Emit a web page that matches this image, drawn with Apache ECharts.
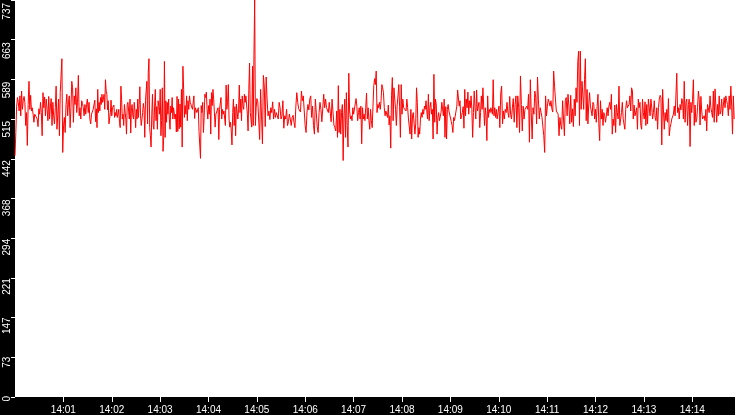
<!DOCTYPE html>
<html>
<head>
<meta charset="utf-8">
<script src="https://cdn.jsdelivr.net/npm/echarts@6/dist/echarts.min.js"></script>
<style>
html,body{margin:0;padding:0;background:#000;}
#c{width:735px;height:415px;}
</style>
</head>
<body>
<div id="c"></div>
<script>
// Values, in nine consecutive time segments
var segA = [448,491,540,556,547,531,559,522,568,534,550,558,547,504,528,467,543,586,534,560,531,537,525,510,525,522,528,516,502,535,525,547,528,485,565,537,557,522,553,534,513,558,516,540,554,504,547,522,507,537,577,497,525,553,485,565,568,628,454,504,519,491,543,562,522,547,559,500,537,586,574,510,559,543,574,528,547,597,522,537,516,550,545,537,522,543,525,543,553,528,547,516,507,525,522,534,537,551];
var segB = [511,535,500,571,528,547,531,556,543,562,547,553,562,534,589,568,562,533,550,507,504,528,551,522,537,534,542,519,528,522,534,519,525,534,510,500,577,553,516,525,504,543,542,516,488,543,547,548,516,553,490,537,543,522,516,547,531,500,534,516,553,519,543,576,522,504,516,528,545,534,482,550,547,586,507,602,628,500,485,464,525,562,504,497,540,571,513,539,497,550,540,525,571,485,513,574,456,482,623,482,550,510,547,525,553,516,497,540,528,556,516,537,540,516,525,492];
var segC = [558,493,553,498,544,501,571,464,614,571,519,541,525,559,513,550,534,559,547,544,550,534,534,559,517,537,534,528,525,537,493,491,443,541,528,547,491,519,562,556,566,534,516,541,525,553,488,565,541,571,553,553,501,525,522,525,537,478,534,537,556,516,534,525,531,534,504,579,534,547,580,516,501,510,494,468,528,553,504,539,485,544,541,516,534,579,528,553,513,559,541,534,562,547,559,559,525,494,571,620,528,525,501,614,504,636,737,504,537];
var segD = [554,548,547,478,571,522,470,597,577,502,594,553,522,531,515,537,528,548,516,534,519,528,525,516,547,537,516,522,550,499,522,516,534,504,511,525,516,504,519,523,510,500,540,565,547,535,533,529,568,550,559,558,504,491,529,543,533,553,559,519,540,504,488,553,554,502,491,528,547,534,511,510,562,537,553,537,534,528,547,550,511,553,553,505,500,494];
var segE = [531,482,578,491,534,488,528,543,439,522,553,482,565,504,464,601,531,516,522,513,537,525,528,522,554,540,513,528,537,516,540,470,537,516,525,513,537,564,516,537,513,497,534,513,500,540,578,591,580,605,528,543,537,547,534,550,580,574,565,537,522,531,525,519,542,505,522,462,559,593,513,574,553,534,504,542,559,580,540,482,580,525,553,537,539,534,531,553,537,516,513,488,534,479,522,528,528,488,507];
var segF = [574,547,482,500,488,516,528,519,534,525,540,534,550,531,516,562,513,537,547,525,534,479,599,510,553,542,488,519,528,513,516,528,547,548,522,553,482,539,479,534,543,531,534,528,511,504,491,519,513,516,510,540,570,571,540,550,516,522,528,539,499,571,522,553,537,566,525,550,537,559,534,482,528,568,537,516,570,531,534,547,500,528,559,534,574,577,504,537,522,476,559,519,534,528,537,531,525,589,522,537,519,534];
var segG = [516,528,540,500,564,577,507,531,516,534,528,547,528,519,558,525,516,537,554,510,543,559,500,559,537,491,596,543,494,540,516,534,534,540,534,562,473,589,528,479,537,525,568,556,507,594,553,516,537,528,519,516,485,454,559,522,540,553,547,540,550,535,529,605,577,553,531,528,525,485,519,504,497,550,516,485,550,556,522,562,540,507,560,510,535,502,553,522,574];
var segH = [547,623,642,504,642,534,586,589,534,589,628,513,571,507,542,565,540,543,522,547,543,516,534,510,539,562,507,476,550,516,534,504,528,522,510,513,537,522,540,547,534,562,488,516,504,542,491,543,528,516,577,504,516,528,547,516,519,497,534,550,537,534,543,559,531,574,568,516,542,522,529,537,497,553,537,547,504,497,553,528,516,548,504,543,507,553,553,522,553,537,516,528,550,519,513];
var segI = [537,497,537,553,560,556,468,571,533,497,528,513,534,510,554,485,500,507,516,519,525,540,522,559,601,528,537,516,543,533,554,550,516,586,510,547,553,504,543,553,465,547,528,553,589,504,542,510,516,537,568,553,505,558,531,516,516,522,513,534,494,543,540,528,559,537,528,519,568,510,572,540,510,543,522,559,525,531,553,522,542,556,537,559,550,543,522,559,534,577,540,488,559,516];

// Segment start times, seconds after 14:00:00 (last entry = end of data)
var segTimes = [0, 100, 201, 300, 399, 498, 598, 697, 796, 893];
var yTicks = [0, 73, 147, 221, 294, 368, 442, 515, 589, 663, 737];
var xTickLabels = ['14:01','14:02','14:03','14:04','14:05','14:06','14:07','14:08','14:09','14:10','14:11','14:12','14:13','14:14'];

var segs = [segA, segB, segC, segD, segE, segF, segG, segH, segI];
var points = [];
segs.forEach(function (s, k) {
  var t0 = segTimes[k], t1 = segTimes[k + 1];
  for (var j = 0; j < s.length; j++) {
    points.push([t0 + (t1 - t0) * j / s.length, s[j]]);
  }
});

var yMax = yTicks[yTicks.length - 1];
var font = 'Liberation Sans';

var chart = echarts.init(document.getElementById('c'), null, {renderer: 'canvas'});
chart.setOption({
  animation: false,
  backgroundColor: '#000000',
  grid: [
    {left: 15, right: 0, top: 0, bottom: 16, show: true, backgroundColor: '#ffffff', borderWidth: 0},
    // label-only grid, lifted a few pixels so the rotated labels sit just above their ticks
    {left: 15, right: 0, top: -3, bottom: 19, show: false}
  ],
  xAxis: [{
    type: 'value',
    gridIndex: 0,
    min: 0,
    max: segTimes[segTimes.length - 1],
    interval: 60,
    splitLine: {show: false},
    axisLine: {show: false},
    axisTick: {show: true, length: 5, lineStyle: {color: '#ffffff', width: 1}},
    axisLabel: {
      color: '#ffffff', fontSize: 10, fontFamily: font, margin: 8,
      showMinLabel: false, showMaxLabel: false,
      formatter: function (v) {
        var i = Math.round(v / 60) - 1;
        return (i >= 0 && i < xTickLabels.length) ? xTickLabels[i] : '';
      }
    }
  }, {
    type: 'value', gridIndex: 1, show: false, min: 0, max: 1
  }],
  yAxis: [{
    type: 'value',
    gridIndex: 0,
    min: 0,
    max: yMax,
    interval: yMax / 10,
    splitLine: {show: false},
    axisLine: {show: false},
    axisTick: {show: true, length: 4, lineStyle: {color: '#ffffff', width: 1}},
    axisLabel: {show: false}
  }, {
    type: 'value',
    gridIndex: 1,
    position: 'left',
    min: 0,
    max: yMax,
    interval: yMax / 10,
    splitLine: {show: false},
    axisLine: {show: false},
    axisTick: {show: false},
    axisLabel: {
      color: '#ffffff', fontSize: 10, fontFamily: font, margin: 8,
      rotate: 90, align: 'right', verticalAlign: 'middle',
      showMinLabel: true, showMaxLabel: true,
      formatter: function (v, idx) { return String(yTicks[idx] !== undefined ? yTicks[idx] : ''); }
    }
  }],
  series: [{
    type: 'line',
    xAxisIndex: 0,
    yAxisIndex: 0,
    data: points,
    showSymbol: false,
    symbol: 'none',
    lineStyle: {color: '#ff0000', width: 1},
    itemStyle: {color: '#ff0000'}
  }]
});
</script>
</body>
</html>
